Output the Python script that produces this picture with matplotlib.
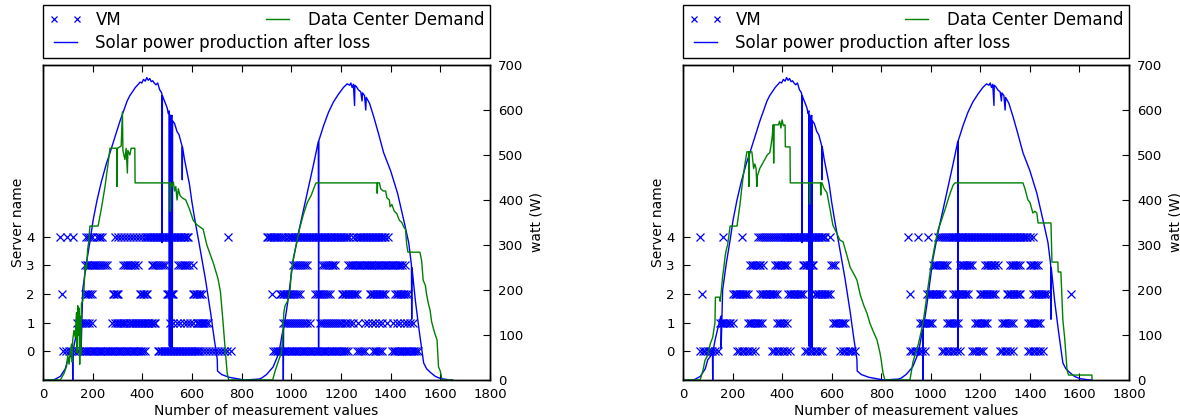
import matplotlib
matplotlib.use("Agg")
import matplotlib.pyplot as plt

# ---- data -------------------------------------------------------------
# solar power after loss (same series in both panels): index, watt
solar_x = [0, 40, 50, 70, 90, 100, 110, 116, 119, 120, 121, 130, 145, 152, 153, 154, 160,
           175, 190, 202, 218, 235, 255, 270, 290, 310, 325, 339, 350, 360, 372, 382, 391,
           398, 405, 412, 418, 424, 430, 436, 442, 448, 455, 462, 470, 476, 479, 480, 481,
           488, 495, 500, 505, 508, 509, 510, 514, 515, 516, 520, 521, 522, 530, 540, 548,
           555, 560, 561, 562, 570, 580, 590, 600, 612, 630, 654, 675, 690, 697, 702, 703,
           720, 750, 780, 810, 870, 880, 900, 927, 950, 966, 967, 968, 969, 985, 1008, 1030,
           1050, 1070, 1090, 1109, 1110, 1111, 1130, 1150, 1170, 1190, 1210, 1225, 1235,
           1240, 1245, 1250, 1255, 1256, 1262, 1270, 1280, 1285, 1287, 1295, 1300, 1302,
           1315, 1332, 1350, 1372, 1400, 1428, 1453, 1473, 1484, 1485, 1486, 1500, 1515,
           1525, 1533, 1545, 1562, 1580, 1602, 1640, 1650]
solar_w = [0, 0, 2, 8, 25, 45, 52, 60, 62, 0, 64, 90, 125, 140, 142, 70, 200,
           260, 310, 355, 400, 440, 480, 505, 540, 575, 598, 620, 632, 640, 650, 656, 662,
           660, 668, 664, 672, 666, 670, 663, 665, 660, 656, 660, 645, 640, 636, 305, 632,
           622, 612, 605, 592, 598, 75, 590, 585, 70, 584, 588, 72, 576, 570, 552, 545,
           530, 520, 445, 518, 490, 462, 435, 395, 355, 300, 225, 150, 90, 65, 45, 20,
           12, 6, 3, 0, 2, 4, 12, 29, 60, 110, 111, 0, 112, 170, 267, 330,
           380, 430, 480, 530, 65, 532, 565, 595, 618, 635, 650, 658, 655,
           660, 650, 657, 610, 655, 652, 645, 640, 620, 638, 632, 600, 628,
           615, 585, 550, 505, 465, 415, 355, 305, 255, 135, 250, 175, 110,
           70, 38, 25, 16, 8, 3, 0, 0]

# data center demand, left panel
demand1_x = [0, 70, 75, 85, 95, 100, 105, 110, 115, 118, 120, 125, 130, 135, 138, 140, 143,
             145, 148, 150, 152, 155, 160, 165, 170, 175, 180, 185, 189, 222, 235, 250,
             262, 270, 297, 298, 300, 315, 320, 322, 330, 335, 340, 342, 350, 355, 370,
             371, 512, 513, 514, 520, 525, 530, 535, 540, 545, 552, 560, 575, 590, 605,
             620, 645, 660, 686, 705, 715, 725, 735, 742, 748, 925, 935, 950, 960, 965,
             970, 975, 985, 995, 1000, 1010, 1020, 1035, 1050, 1065, 1080, 1090, 1095,
             1100, 1345, 1346, 1348, 1355, 1360, 1370, 1380, 1385, 1395, 1398, 1405, 1415,
             1425, 1435, 1445, 1455, 1460, 1465, 1470, 1518, 1525, 1531, 1540, 1545, 1552,
             1559, 1565, 1572, 1580, 1587, 1593, 1600, 1607, 1647]
demand1_w = [0, 0, 5, 15, 30, 55, 35, 60, 80, 40, 90, 110, 95, 150, 60, 165, 100,
             160, 35, 140, 55, 170, 175, 200, 255, 245, 290, 310, 342, 342, 380, 430,
             480, 515, 515, 430, 515, 520, 596, 510, 490, 515, 460, 510, 500, 515, 515,
             438, 438, 375, 438, 430, 440, 420, 430, 400, 425, 410, 405, 400, 380, 355,
             345, 335, 300, 260, 225, 195, 130, 60, 15, 0, 0, 20, 45, 60, 90,
             150, 165, 175, 200, 240, 275, 300, 340, 370, 395, 410, 425, 432,
             438, 438, 415, 438, 438, 425, 420, 420, 405, 400, 385, 390, 375,
             370, 355, 350, 338, 335, 300, 284, 284, 265, 222, 210, 190, 170,
             155, 130, 115, 100, 89, 29, 20, 0, 0]

# data center demand, right panel
demand2_x = [0, 69, 80, 89, 100, 110, 120, 129, 131, 149, 150, 155, 160, 165, 170, 175,
             180, 185, 190, 218, 230, 240, 250, 258, 265, 266, 268, 278, 285, 290, 295,
             298, 300, 310, 320, 330, 340, 350, 355, 360, 364, 366, 368, 385, 390, 395,
             400, 405, 412, 413, 432, 433, 510, 511, 512, 555, 556, 557, 561, 570, 581,
             590, 605, 620, 633, 646, 660, 675, 690, 702, 715, 730, 742, 755, 770, 783,
             795, 800, 807, 815, 916, 928, 950, 969, 980, 989, 1000, 1010, 1020, 1029,
             1040, 1057, 1075, 1090, 1098, 1372, 1380, 1392, 1400, 1405, 1412, 1420, 1428,
             1433, 1485, 1489, 1513, 1514, 1525, 1533, 1540, 1550, 1556, 1650, 1651]
demand2_w = [0, 0, 20, 44, 55, 80, 95, 127, 184, 184, 175, 200, 230, 250, 275, 290,
             300, 320, 342, 342, 390, 440, 480, 507, 507, 430, 507, 507, 470, 480, 470,
             430, 453, 470, 480, 490, 500, 505, 520, 540, 567, 482, 567, 567, 575, 560,
             578, 565, 567, 518, 518, 438, 438, 391, 438, 438, 411, 438, 438, 425, 416,
             390, 344, 327, 311, 307, 280, 250, 235, 222, 190, 165, 149, 125, 105, 89,
             60, 44, 16, 0, 0, 40, 80, 127, 170, 207, 250, 280, 310, 333,
             350, 378, 410, 433, 438, 438, 425, 400, 395, 385, 371, 375, 371,
             349, 349, 262, 262, 240, 240, 133, 95, 22, 11, 11, 0]

servers = [0, 1, 2, 3, 4]

# VM placements per server (index of measurement), left panel
vm1_s0 = [81, 92, 103, 114, 125, 136, 147, 158, 165, 172, 179, 186, 193,
          200, 207, 214, 221, 228, 235, 242, 249, 256, 263, 270, 277, 284, 291, 298, 305,
          312, 319, 326, 333, 340, 347, 354, 361, 368, 375, 382, 389, 396, 403, 411,
          463, 469, 475, 481, 487, 493, 499, 505, 511, 517, 523, 529, 535, 541, 547, 553,
          559, 565, 571, 577, 583, 589, 595, 601, 607, 613, 619, 625, 633, 645, 657, 669,
          681, 693, 705, 717, 729, 741, 757,
          927, 934, 941, 948, 955, 962, 969, 976, 983, 990, 997, 1004, 1011, 1018, 1025,
          1032, 1039, 1046, 1053, 1060, 1067, 1074, 1081, 1088, 1095, 1102, 1109, 1116,
          1123, 1130, 1137, 1144, 1151, 1158, 1165, 1172, 1179, 1186, 1193, 1200, 1207,
          1214, 1221, 1229, 1264, 1272, 1280, 1290, 1297, 1329, 1336, 1343, 1350, 1358,
          1365, 1405, 1412, 1419, 1426, 1433, 1440, 1447, 1454, 1461, 1468, 1475, 1482,
          1489, 1496, 1503, 1510]
vm1_s1 = [137, 145, 153, 161, 169, 177, 185, 197,
          277, 291, 297, 303, 309, 315, 321, 327, 333, 345, 351, 357, 363, 369, 375, 381,
          387, 393, 399, 405, 411, 417, 423, 429, 435, 441, 447, 451,
          511, 524, 538, 552, 566, 580, 594, 605, 620, 625, 630, 635, 640, 645, 650, 656, 665,
          967, 975, 983, 991, 999, 1007, 1015, 1023, 1031, 1039, 1047, 1055, 1063, 1075,
          1116, 1124, 1132, 1140, 1148, 1156, 1164, 1172, 1180, 1188, 1196, 1204, 1216,
          1224, 1237, 1250, 1268, 1297, 1310, 1324, 1338, 1352, 1366, 1385,
          1410, 1424, 1438, 1452, 1466, 1480, 1490]
vm1_s2 = [76, 169, 176, 183, 190, 197, 283, 288, 293, 298, 303,
          391, 396, 402, 408, 413, 418, 499, 504, 509, 514, 519, 524,
          605, 610, 616, 622, 628, 634, 640, 922,
          954, 960, 966, 972, 978, 984, 990, 996, 1002, 1010, 1018, 1026, 1035,
          1096, 1103, 1110, 1117, 1124, 1131, 1140, 1148, 1156,
          1204, 1210, 1216, 1222, 1228, 1234, 1240, 1246, 1252, 1258, 1264,
          1317, 1323, 1329, 1335, 1341, 1347, 1353, 1359, 1365, 1371, 1377,
          1418, 1424, 1430, 1436, 1442, 1448, 1454, 1460, 1470]
vm1_s3 = [169, 176, 183, 190, 197, 204, 211, 218, 225, 232, 240, 248, 257,
          323, 330, 337, 344, 351, 358, 365, 372, 383, 438, 445, 452, 460, 468, 476, 484, 491,
          545, 552, 559, 566, 573, 580, 590, 605,
          1008, 1015, 1022, 1030, 1038, 1046, 1054, 1063,
          1122, 1130, 1138, 1146, 1154, 1162, 1170, 1177,
          1229, 1236, 1243, 1250, 1257, 1264, 1271, 1278, 1285, 1292, 1299, 1306, 1313,
          1320, 1327, 1334, 1341, 1348, 1355, 1362, 1369, 1376, 1383, 1390, 1397, 1404,
          1411, 1418, 1425, 1432, 1439, 1446, 1458]
vm1_s4 = [68, 97, 121, 175, 182, 190, 197, 218, 224, 230, 236,
          290, 302, 314, 326, 338, 350, 362, 374, 386, 398, 410, 418, 424, 430, 436, 442,
          448, 454, 460, 466, 472, 478, 484, 490, 496, 502, 508, 514, 520, 526, 532, 538,
          544, 550, 556, 562, 568, 574, 580, 584, 746,
          902, 908, 914, 920, 926, 932, 938, 944, 950, 958, 966, 975, 985, 992, 998, 1004,
          1010, 1016, 1022, 1028, 1034, 1040, 1046, 1052, 1058, 1064, 1070, 1076, 1082,
          1088, 1094, 1100, 1106, 1112, 1118, 1124, 1130, 1136, 1142, 1148, 1154, 1160,
          1166, 1172, 1178, 1184, 1190, 1196, 1202, 1208, 1214, 1220, 1226, 1234, 1248,
          1262, 1270, 1276, 1282, 1288, 1294, 1300, 1306, 1312, 1318, 1324, 1330, 1336,
          1342, 1348, 1354, 1360, 1366, 1372, 1378, 1390]

# VM placements per server, right panel
vm2_s0 = [69, 79, 89, 99, 109, 119, 131, 141, 218, 228, 238, 248, 258, 268, 278, 290,
          359, 369, 379, 389, 399, 409, 419, 432, 492, 502, 512, 522, 532, 542, 552, 561,
          634, 644, 654, 664, 674, 684, 694,
          916, 926, 936, 946, 956, 966, 977, 1045, 1055, 1065, 1075, 1085, 1095, 1105,
          1118, 1166, 1175, 1184, 1193, 1202, 1211, 1279, 1289, 1299, 1309, 1319, 1332,
          1392, 1402, 1412, 1422, 1432, 1442, 1453]
vm2_s1 = [149, 156, 163, 170, 177, 184, 191, 202, 262, 269, 276, 283, 290, 297, 304, 311, 319,
          379, 386, 393, 400, 407, 419, 605, 612, 619, 626, 633, 640, 647, 654,
          956, 963, 970, 977, 984, 991, 998, 1005, 1065, 1072, 1079, 1086, 1093, 1100, 1110,
          1178, 1185, 1192, 1199, 1206, 1213, 1220, 1227, 1287, 1294, 1301, 1308, 1315,
          1322, 1332, 1392, 1399, 1406, 1413, 1420, 1427, 1434, 1441]
vm2_s2 = [77, 202, 208, 214, 220, 226, 232, 238, 244, 250, 256, 262,
          311, 317, 323, 329, 335, 341, 347, 353, 359, 365, 371, 379,
          424, 430, 436, 442, 448, 454, 460, 466, 472, 478, 484,
          532, 538, 544, 550, 556, 562, 568, 574, 580, 586, 593, 916,
          985, 991, 997, 1003, 1009, 1015, 1021, 1027, 1033, 1039, 1045,
          1090, 1096, 1102, 1108, 1114, 1120, 1126, 1132, 1138, 1144, 1150,
          1198, 1204, 1210, 1216, 1222, 1228, 1234, 1240, 1246, 1252, 1259,
          1307, 1313, 1319, 1325, 1331, 1337, 1343, 1349, 1355, 1360,
          1413, 1419, 1425, 1431, 1437, 1443, 1449, 1455, 1462, 1469, 1566]
vm2_s3 = [270, 277, 284, 291, 298, 305, 312, 323, 371, 378, 385, 392, 399, 406, 412, 419,
          484, 490, 496, 502, 508, 514, 519, 525, 598, 605, 612,
          1009, 1016, 1023, 1030, 1037, 1044, 1051, 1058, 1065,
          1118, 1124, 1130, 1136, 1142, 1148, 1154, 1160, 1166,
          1219, 1225, 1231, 1237, 1243, 1249, 1255, 1261, 1271,
          1320, 1326, 1332, 1338, 1344, 1350, 1360, 1400, 1406, 1412, 1418, 1424, 1433]
vm2_s4 = [69, 160, 237, 304, 312, 320, 328, 336, 344, 352, 360, 368, 376, 384, 392, 400,
          406, 412, 418, 424, 430, 436, 442, 448, 454, 460, 466, 472, 478, 484, 490, 496,
          502, 508, 514, 520, 526, 532, 538, 544, 550, 556, 562, 568, 574, 593,
          909, 950, 990, 1030, 1038, 1046, 1054, 1062, 1070, 1078, 1084, 1090, 1096, 1102,
          1108, 1114, 1120, 1126, 1132, 1138, 1144, 1150, 1156, 1162, 1168, 1174, 1180,
          1186, 1192, 1198, 1204, 1210, 1216, 1222, 1228, 1234, 1240, 1246, 1252, 1258,
          1264, 1270, 1276, 1282, 1288, 1294, 1300, 1306, 1312, 1318, 1324, 1330, 1336,
          1342, 1348, 1354, 1360, 1366, 1372, 1378, 1384, 1390, 1400, 1413]

vm1 = [vm1_s0, vm1_s1, vm1_s2, vm1_s3, vm1_s4]
vm2 = [vm2_s0, vm2_s1, vm2_s2, vm2_s3, vm2_s4]

x_ticks = [0, 200, 400, 600, 800, 1000, 1200, 1400, 1600, 1800]
watt_ticks = [0, 100, 200, 300, 400, 500, 600, 700]

plt.rcParams.update({
    "font.family": "DejaVu Sans",
    "xtick.direction": "in",
    "ytick.direction": "in",
    "xtick.top": True,
    "xtick.major.size": 5,
    "ytick.major.size": 5,
    "xtick.major.pad": 6,
    "ytick.major.pad": 6,
    "axes.linewidth": 1.0,
})


def draw_panel(fig, rect, vm_lists, demand_x, demand_w):
    ax = fig.add_axes(rect)
    vm_handle = None
    for srv, xs in zip(servers, vm_lists):
        (vm_handle,) = ax.plot(xs, [srv] * len(xs), linestyle="none", marker="x",
                               color="#0000ff", markersize=5.5, markeredgewidth=0.9,
                               label="VM")
    ax.set_xlim(0, 1800)
    ax.set_ylim(-1, 10)
    ax.set_xticks(x_ticks)
    ax.set_yticks(servers)
    ax.tick_params(labelsize=9.5)
    ax.set_xlabel("Number of measurement values", fontsize=10, labelpad=2)
    ax.set_ylabel("Server name", fontsize=10, labelpad=1)

    ax2 = ax.twinx()
    (solar_handle,) = ax2.plot(solar_x, solar_w, color="#0000ff", lw=1.0,
                               label="Solar power production after loss")
    (demand_handle,) = ax2.plot(demand_x, demand_w, color="#008000", lw=1.0,
                                label="Data Center Demand")
    ax2.set_ylim(0, 700)
    ax2.set_yticks(watt_ticks)
    ax2.tick_params(labelsize=9.5)
    ax2.set_ylabel("watt (W)", fontsize=10, labelpad=4)

    handles = [vm_handle, solar_handle, demand_handle]
    ax2.legend(handles, [h.get_label() for h in handles], ncol=2, mode="expand",
               loc="lower left", bbox_to_anchor=(0, 1.022, 1, 0.1), borderaxespad=0,
               numpoints=2, fontsize=12, fancybox=False, edgecolor="black",
               framealpha=1, handlelength=2.0, handletextpad=0.8, labelspacing=0.3,
               borderpad=0.35, columnspacing=1.0, markerscale=0.8)
    return ax, ax2


fig = plt.figure(figsize=(11.8, 4.19), dpi=100)
draw_panel(fig, [0.0364, 0.0931, 0.3788, 0.7518], vm1, demand1_x, demand1_w)
draw_panel(fig, [0.5788, 0.0931, 0.3780, 0.7518], vm2, demand2_x, demand2_w)

fig.savefig("out.png", dpi=100)
